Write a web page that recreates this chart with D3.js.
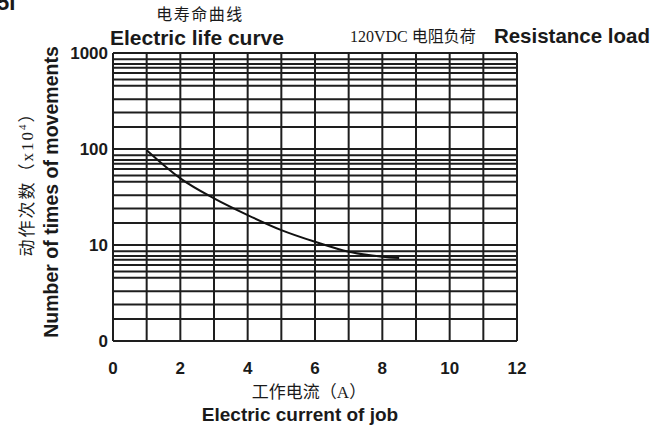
<!DOCTYPE html>
<html>
<head>
<meta charset="utf-8">
<script src="https://cdn.jsdelivr.net/npm/d3@7"></script>
<style>
  body { margin: 0; background: #fff; }
  .en { font-family: "Liberation Sans", Arial, sans-serif; font-weight: bold; fill: #1a1a1a; }
  .cn { font-family: "Liberation Serif", "Noto Sans CJK SC", serif; fill: #1a1a1a; }
  .grid line { stroke: #1e1e1e; stroke-width: 2; }
</style>
</head>
<body>
<svg id="chart" xmlns="http://www.w3.org/2000/svg"></svg>
<script>
// curve: current (A) vs movements (x10^4)
const current = [1, 2, 3, 4, 5, 6, 7, 8, 8.5];
const movements = [97, 49.5, 30.6, 20.5, 14.3, 10.8, 8.5, 7.55, 7.3];

const decades = [1, 10, 100, 1000];
// intermediate horizontal lines inside each decade (fraction of decade top)
const subLines = [0.86, 0.77, 0.7, 0.62, 0.53, 0.455, 0.33, 0.24, 0.17];
const xTicks = [0, 2, 4, 6, 8, 10, 12];
const yTickLabels = ["0", "10", "100", "1000"];

const width = 653;
const height = 428;
const margin = { top: 53, right: 136, bottom: 87, left: 113 };

const svg = d3.select("#chart").attr("width", width).attr("height", height);

const xScale = d3.scaleLinear().domain([0, 12]).range([margin.left, width - margin.right]);
const yScale = d3.scaleLog().domain([1, 1000]).range([height - margin.bottom, margin.top]);

// grid
const hValues = decades.slice();
decades.slice(1).forEach(d => subLines.forEach(m => hValues.push(d * m)));

const grid = svg.append("g").attr("class", "grid");
grid.selectAll(".h")
  .data(hValues)
  .enter()
  .append("line")
  .attr("x1", xScale(0))
  .attr("x2", xScale(12))
  .attr("y1", d => yScale(d))
  .attr("y2", d => yScale(d));

grid.selectAll(".v")
  .data(d3.range(0, 13))
  .enter()
  .append("line")
  .attr("x1", d => xScale(d))
  .attr("x2", d => xScale(d))
  .attr("y1", yScale(1))
  .attr("y2", yScale(1000));

// curve
const line = d3.line()
  .x((d, i) => xScale(current[i]))
  .y(d => yScale(d))
  .curve(d3.curveMonotoneX);

svg.append("path")
  .datum(movements)
  .attr("fill", "none")
  .attr("stroke", "#111")
  .attr("stroke-width", 2)
  .attr("d", line);

// axis labels
svg.selectAll(".ylab")
  .data(decades)
  .enter()
  .append("text")
  .attr("class", "en")
  .attr("x", margin.left - 5)
  .attr("y", d => yScale(d) + 6)
  .attr("text-anchor", "end")
  .style("font-size", "17px")
  .text((d, i) => yTickLabels[i]);

svg.selectAll(".xlab")
  .data(xTicks)
  .enter()
  .append("text")
  .attr("class", "en")
  .attr("x", d => xScale(d))
  .attr("y", 374)
  .attr("text-anchor", "middle")
  .style("font-size", "17px")
  .text(d => d);

// titles
svg.append("text").attr("class", "en").attr("x", -3).attr("y", 10)
  .style("font-size", "22px").text("5I");

svg.append("text").attr("class", "cn").attr("x", 200).attr("y", 20)
  .attr("text-anchor", "middle").style("font-size", "16px")
  .style("letter-spacing", "1.5px").text("电寿命曲线");
svg.append("text").attr("class", "en").attr("x", 110).attr("y", 45)
  .style("font-size", "21px").text("Electric life curve");

svg.append("text").attr("class", "cn").attr("x", 350).attr("y", 42)
  .style("font-size", "16px").text("120VDC 电阻负荷");
svg.append("text").attr("class", "en").attr("x", 650).attr("y", 43)
  .attr("text-anchor", "end").style("font-size", "20.5px").text("Resistance load");

svg.append("text").attr("class", "cn").attr("x", 309).attr("y", 398)
  .attr("text-anchor", "middle").style("font-size", "17px").text("工作电流（A）");
svg.append("text").attr("class", "en").attr("x", 300).attr("y", 421)
  .attr("text-anchor", "middle").style("font-size", "19px").text("Electric current of job");

svg.append("text").attr("class", "en")
  .attr("transform", "translate(58,192) rotate(-90)")
  .attr("text-anchor", "middle").style("font-size", "19.5px")
  .text("Number of times of movements");

const yCn = svg.append("text").attr("class", "cn")
  .attr("transform", "translate(33,180) rotate(-90)")
  .attr("text-anchor", "middle").style("font-size", "17px")
  .style("letter-spacing", "2px");
yCn.append("tspan").text("动作次数（x10");
yCn.append("tspan").attr("dy", -7).style("font-size", "11px").text("4");
yCn.append("tspan").attr("dy", 7).text("）");
</script>
</body>
</html>
